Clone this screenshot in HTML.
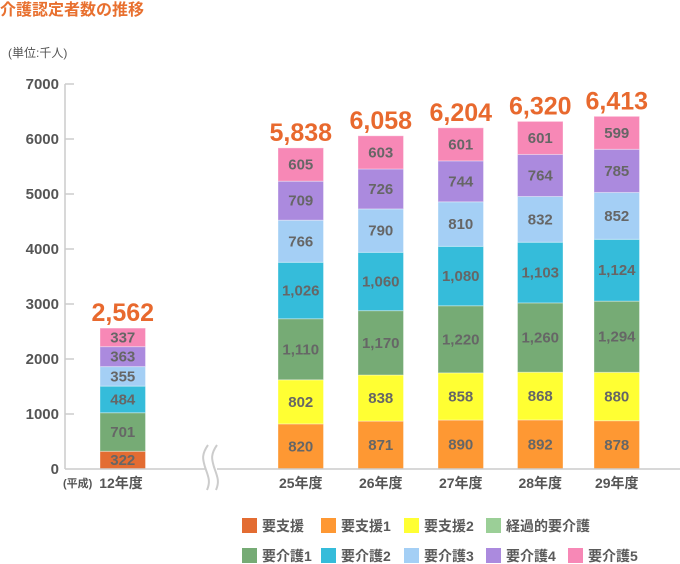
<!DOCTYPE html>
<html><head><meta charset="utf-8">
<style>
html,body{margin:0;padding:0;background:#fff;}
svg{display:block;}
text{font-family:"Liberation Sans","Noto Sans CJK JP",sans-serif;font-weight:bold;}
.seg{fill:#666;font-size:15px;text-anchor:middle;}
.tot{fill:#e8692e;font-size:25px;text-anchor:middle;}
.yl{fill:#555;font-size:15px;text-anchor:end;}
.xl{fill:#555;font-size:14px;text-anchor:middle;}
.lg{fill:#5a5a5a;font-size:14px;}
rect.b{stroke:rgba(255,255,255,0.35);stroke-width:1;}
</style></head>
<body>
<svg width="680" height="564" viewBox="0 0 680 564" xmlns="http://www.w3.org/2000/svg">
<text x="0" y="15" style="fill:#e8702f;font-size:16px;" textLength="144">介護認定者数の推移</text>
<text x="8" y="57" style="fill:#555;font-size:12px;font-weight:normal;">(単位:千人)</text>

<!-- axis -->
<line x1="65" y1="84" x2="65" y2="469" stroke="#ccc" stroke-width="1.5"/>
<g stroke="#ccc" stroke-width="1.5">
<line x1="65" y1="84" x2="74" y2="84"/>
<line x1="65" y1="139" x2="74" y2="139"/>
<line x1="65" y1="194" x2="74" y2="194"/>
<line x1="65" y1="249" x2="74" y2="249"/>
<line x1="65" y1="304" x2="74" y2="304"/>
<line x1="65" y1="359" x2="74" y2="359"/>
<line x1="65" y1="414" x2="74" y2="414"/>
</g>
<text class="yl" x="59" y="89">7000</text>
<text class="yl" x="59" y="144">6000</text>
<text class="yl" x="59" y="199">5000</text>
<text class="yl" x="59" y="254">4000</text>
<text class="yl" x="59" y="309">3000</text>
<text class="yl" x="59" y="364">2000</text>
<text class="yl" x="59" y="419">1000</text>
<text class="yl" x="59" y="474">0</text>

<!-- bar 12 -->
<g>
<rect class="b" x="100" y="451.29" width="45.5" height="17.71" fill="#e36c32"/>
<rect class="b" x="100" y="412.735" width="45.5" height="38.555" fill="#76ab75"/>
<rect class="b" x="100" y="386.115" width="45.5" height="26.62" fill="#35bcda"/>
<rect class="b" x="100" y="366.59" width="45.5" height="19.525" fill="#a4cff5"/>
<rect class="b" x="100" y="346.625" width="45.5" height="19.965" fill="#ab8ade"/>
<rect class="b" x="100" y="328.09" width="45.5" height="18.535" fill="#f788b6"/>
<text class="seg" x="122.75" y="465.2">322</text>
<text class="seg" x="122.75" y="437">701</text>
<text class="seg" x="122.75" y="404.4">484</text>
<text class="seg" x="122.75" y="381.3">355</text>
<text class="seg" x="122.75" y="361.6">363</text>
<text class="seg" x="122.75" y="342.4">337</text>
<text class="tot" x="122.75" y="321">2,562</text>
</g>

<!-- bar 25 -->
<g>
<rect class="b" x="278" y="423.9" width="45.5" height="45.1" fill="#fe9833"/>
<rect class="b" x="278" y="379.79" width="45.5" height="44.11" fill="#ffff33"/>
<rect class="b" x="278" y="318.74" width="45.5" height="61.05" fill="#76ab75"/>
<rect class="b" x="278" y="262.31" width="45.5" height="56.43" fill="#35bcda"/>
<rect class="b" x="278" y="220.18" width="45.5" height="42.13" fill="#a4cff5"/>
<rect class="b" x="278" y="181.185" width="45.5" height="38.995" fill="#ab8ade"/>
<rect class="b" x="278" y="147.91" width="45.5" height="33.275" fill="#f788b6"/>
<text class="seg" x="300.75" y="451.5">820</text>
<text class="seg" x="300.75" y="406.9">802</text>
<text class="seg" x="300.75" y="354.3">1,110</text>
<text class="seg" x="300.75" y="295.5">1,026</text>
<text class="seg" x="300.75" y="246.3">766</text>
<text class="seg" x="300.75" y="205.7">709</text>
<text class="seg" x="300.75" y="169.6">605</text>
<text class="tot" x="300.75" y="141">5,838</text>
</g>

<!-- bar 26 -->
<g>
<rect class="b" x="358" y="421.095" width="45.5" height="47.905" fill="#fe9833"/>
<rect class="b" x="358" y="375.005" width="45.5" height="46.09" fill="#ffff33"/>
<rect class="b" x="358" y="310.655" width="45.5" height="64.35" fill="#76ab75"/>
<rect class="b" x="358" y="252.355" width="45.5" height="58.3" fill="#35bcda"/>
<rect class="b" x="358" y="208.905" width="45.5" height="43.45" fill="#a4cff5"/>
<rect class="b" x="358" y="168.975" width="45.5" height="39.93" fill="#ab8ade"/>
<rect class="b" x="358" y="135.81" width="45.5" height="33.165" fill="#f788b6"/>
<text class="seg" x="380.75" y="450.1">871</text>
<text class="seg" x="380.75" y="403.1">838</text>
<text class="seg" x="380.75" y="347.8">1,170</text>
<text class="seg" x="380.75" y="286.5">1,060</text>
<text class="seg" x="380.75" y="235.6">790</text>
<text class="seg" x="380.75" y="193.9">726</text>
<text class="seg" x="380.75" y="157.4">603</text>
<text class="tot" x="380.75" y="128.8">6,058</text>
</g>

<!-- bar 27 -->
<g>
<rect class="b" x="438" y="420.05" width="45.5" height="48.95" fill="#fe9833"/>
<rect class="b" x="438" y="372.86" width="45.5" height="47.19" fill="#ffff33"/>
<rect class="b" x="438" y="305.76" width="45.5" height="67.1" fill="#76ab75"/>
<rect class="b" x="438" y="246.36" width="45.5" height="59.4" fill="#35bcda"/>
<rect class="b" x="438" y="201.81" width="45.5" height="44.55" fill="#a4cff5"/>
<rect class="b" x="438" y="160.89" width="45.5" height="40.92" fill="#ab8ade"/>
<rect class="b" x="438" y="127.835" width="45.5" height="33.055" fill="#f788b6"/>
<text class="seg" x="460.75" y="449.5">890</text>
<text class="seg" x="460.75" y="401.5">858</text>
<text class="seg" x="460.75" y="344.3">1,220</text>
<text class="seg" x="460.75" y="281.1">1,080</text>
<text class="seg" x="460.75" y="229.1">810</text>
<text class="seg" x="460.75" y="186.4">744</text>
<text class="seg" x="460.75" y="149.4">601</text>
<text class="tot" x="460.75" y="120.8">6,204</text>
</g>

<!-- bar 28 -->
<g>
<rect class="b" x="517.5" y="419.94" width="45.5" height="49.06" fill="#fe9833"/>
<rect class="b" x="517.5" y="372.2" width="45.5" height="47.74" fill="#ffff33"/>
<rect class="b" x="517.5" y="302.9" width="45.5" height="69.3" fill="#76ab75"/>
<rect class="b" x="517.5" y="242.235" width="45.5" height="60.665" fill="#35bcda"/>
<rect class="b" x="517.5" y="196.475" width="45.5" height="45.76" fill="#a4cff5"/>
<rect class="b" x="517.5" y="154.455" width="45.5" height="42.02" fill="#ab8ade"/>
<rect class="b" x="517.5" y="121.4" width="45.5" height="33.055" fill="#f788b6"/>
<text class="seg" x="540.25" y="449.5">892</text>
<text class="seg" x="540.25" y="401.1">868</text>
<text class="seg" x="540.25" y="342.6">1,260</text>
<text class="seg" x="540.25" y="277.6">1,103</text>
<text class="seg" x="540.25" y="224.4">832</text>
<text class="seg" x="540.25" y="180.5">764</text>
<text class="seg" x="540.25" y="142.9">601</text>
<text class="tot" x="540.25" y="114.4">6,320</text>
</g>

<!-- bar 29 -->
<g>
<rect class="b" x="594" y="420.71" width="45.5" height="48.29" fill="#fe9833"/>
<rect class="b" x="594" y="372.31" width="45.5" height="48.4" fill="#ffff33"/>
<rect class="b" x="594" y="301.14" width="45.5" height="71.17" fill="#76ab75"/>
<rect class="b" x="594" y="239.32" width="45.5" height="61.82" fill="#35bcda"/>
<rect class="b" x="594" y="192.46" width="45.5" height="46.86" fill="#a4cff5"/>
<rect class="b" x="594" y="149.285" width="45.5" height="43.175" fill="#ab8ade"/>
<rect class="b" x="594" y="116.34" width="45.5" height="32.945" fill="#f788b6"/>
<text class="seg" x="616.75" y="449.9">878</text>
<text class="seg" x="616.75" y="401.5">880</text>
<text class="seg" x="616.75" y="341.7">1,294</text>
<text class="seg" x="616.75" y="275.2">1,124</text>
<text class="seg" x="616.75" y="220.9">852</text>
<text class="seg" x="616.75" y="175.9">785</text>
<text class="seg" x="616.75" y="137.8">599</text>
<text class="tot" x="616.75" y="109.3">6,413</text>
</g>

<!-- baseline -->
<line x1="65" y1="469" x2="680" y2="469" stroke="#ccc" stroke-width="1.5"/>
<!-- break -->
<rect x="205" y="466" width="12" height="6" fill="#fff"/>
<path d="M208 445 C201 455,203 460,205 467 C208 476,211 481,207 490" fill="none" stroke="#ccc" stroke-width="2"/>
<path d="M217 445 C210 455,212 460,214 467 C217 476,220 481,216 490" fill="none" stroke="#ccc" stroke-width="2"/>

<!-- x labels -->
<text x="63" y="487" style="fill:#555;font-size:11px;">(平成)</text>
<text class="xl" x="121" y="488">12年度</text>
<text class="xl" x="300.75" y="488">25年度</text>
<text class="xl" x="380.75" y="488">26年度</text>
<text class="xl" x="460.75" y="488">27年度</text>
<text class="xl" x="540.25" y="488">28年度</text>
<text class="xl" x="616.75" y="488">29年度</text>

<!-- legend -->
<rect x="242" y="518" width="15" height="15" fill="#e36c32"/>
<text class="lg" x="262" y="531">要支援</text>
<rect x="321" y="518" width="15" height="15" fill="#fe9833"/>
<text class="lg" x="341" y="531">要支援1</text>
<rect x="404" y="518" width="15" height="15" fill="#ffff33"/>
<text class="lg" x="424" y="531">要支援2</text>
<rect x="486" y="518" width="15" height="15" fill="#9bcf97"/>
<text class="lg" x="506" y="531">経過的要介護</text>

<rect x="242" y="548" width="15" height="15" fill="#76ab75"/>
<text class="lg" x="262" y="561">要介護1</text>
<rect x="321" y="548" width="15" height="15" fill="#35bcda"/>
<text class="lg" x="341" y="561">要介護2</text>
<rect x="404" y="548" width="15" height="15" fill="#a4cff5"/>
<text class="lg" x="424" y="561">要介護3</text>
<rect x="486" y="548" width="15" height="15" fill="#ab8ade"/>
<text class="lg" x="506" y="561">要介護4</text>
<rect x="568" y="548" width="15" height="15" fill="#f788b6"/>
<text class="lg" x="588" y="561">要介護5</text>
</svg>
</body></html>
